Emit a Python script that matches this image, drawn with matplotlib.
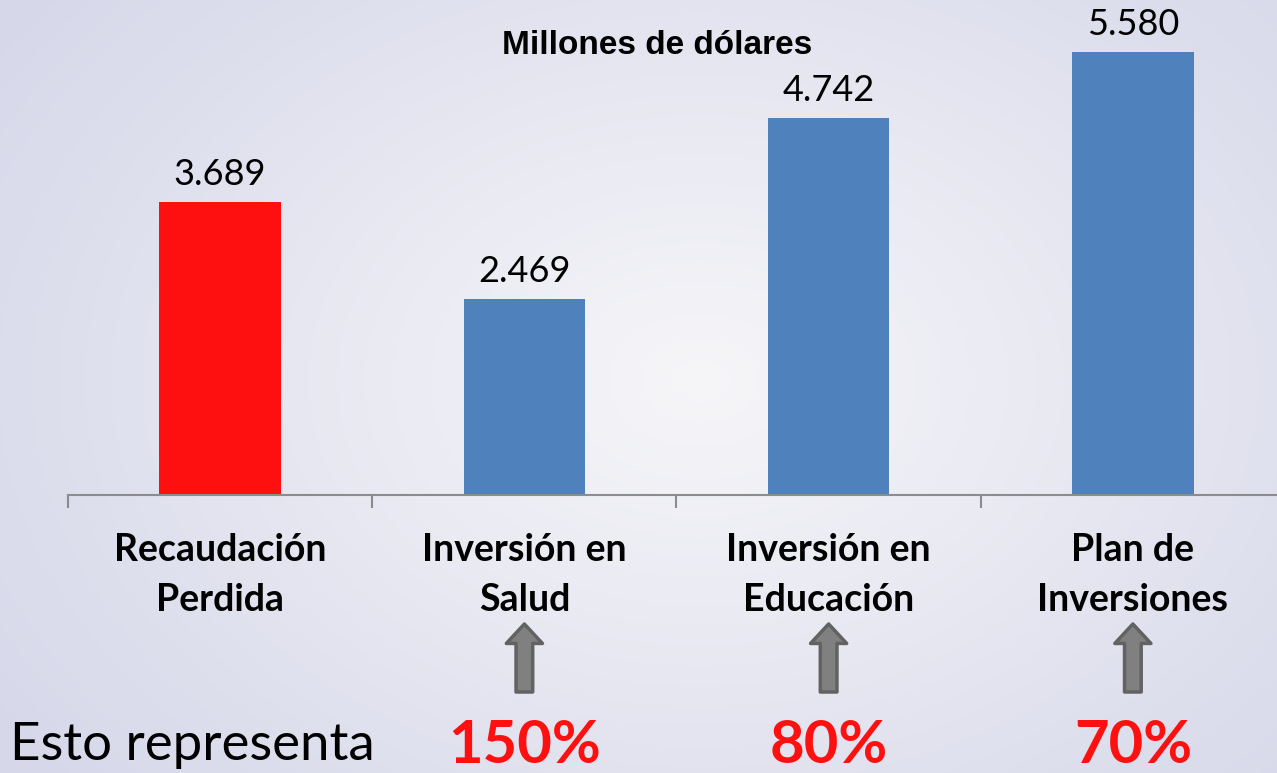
import numpy as np
import matplotlib.pyplot as plt

# data
categorias = ["Recaudación\nPerdida", "Inversión en\nSalud", "Inversión en\nEducación", "Plan de\nInversiones"]
valores = [3.689, 2.469, 4.742, 5.580]
etiquetas = ["3.689", "2.469", "4.742", "5.580"]
colores = ["#FF1010", "#4F81BD", "#4F81BD", "#4F81BD"]
porcentajes = ["", "150%", "80%", "70%"]

W, H = 1277, 773
fig = plt.figure(figsize=(W / 100, H / 100), dpi=100)

# soft radial background
bg = fig.add_axes([0, 0, 1, 1], zorder=-1)
yy, xx = np.mgrid[0:H, 0:W]
r = np.sqrt(((xx - 700) / 850) ** 2 + ((yy - 380) / 620) ** 2)
r = np.clip(r, 0, 1)
c0 = np.array([0.965, 0.965, 0.975])
c1 = np.array([0.84, 0.845, 0.915])
img = c0[None, None, :] * (1 - r[..., None]) + c1[None, None, :] * r[..., None]
bg.imshow(img, aspect="auto", extent=[0, 1, 0, 1])
bg.axis("off")

# main axes: left edge at 68px, baseline at 495px
ax = fig.add_axes([68 / W, (H - 495) / H, 1 - 68 / W, 495 / H])
ax.patch.set_alpha(0)
x = np.arange(len(valores))
ax.bar(x, valores, width=0.4, color=colores)
ax.set_xlim(-0.5, 3.5 - 8 / 304.5)
ax.set_ylim(0, 495 / 79.4)

for s in ["top", "right", "left"]:
    ax.spines[s].set_visible(False)
ax.spines["bottom"].set_color("#8C8C8C")
ax.spines["bottom"].set_linewidth(1.5)
ax.set_yticks([])
ax.set_xticks(np.arange(-0.5, 3.0, 1.0))
ax.tick_params(axis="x", direction="out", length=9, width=1.5, color="#8C8C8C", labelbottom=False)

for xi, v, t in zip(x, valores, etiquetas):
    ax.annotate(t, (xi, v), xytext=(0, 8), textcoords="offset points",
                ha="center", va="bottom", fontsize=26, family="Lato", annotation_clip=False)

for xi, cat in zip(x, categorias):
    ax.annotate(cat, (xi, 0), xycoords=("data", "figure pixels"), xytext=(xi, H - 533),
                textcoords=("data", "figure pixels"), ha="center", va="top",
                fontsize=27, fontweight="bold", family="Lato", linespacing=1.58,
                annotation_clip=False)

fig.text(657 / W, 1 - 45 / H, "Millones de dólares", ha="center", va="center",
         fontsize=24, fontweight="bold", family="Liberation Sans")

fig.text(10 / W, 13 / H, "Esto representa", ha="left", va="baseline",
         fontsize=38, family="Lato")

for xi, p in zip(x, porcentajes):
    if not p:
        continue
    ax.annotate(p, (xi, 10), xycoords=("data", "figure pixels"), ha="center",
                va="baseline", fontsize=43, fontweight="bold", color="#FF1010",
                family="Lato", annotation_clip=False)
    ax.annotate("", xy=(xi, H - 624), xytext=(xi, H - 692),
                xycoords=("data", "figure pixels"), textcoords=("data", "figure pixels"),
                arrowprops=dict(arrowstyle="simple,head_width=2.6,head_length=1.4,tail_width=1.2",
                                mutation_scale=10, fc="#808080", ec="#626262", lw=2.5,
                                shrinkA=0, shrinkB=0),
                annotation_clip=False)

fig.savefig("out.png", dpi=100)
